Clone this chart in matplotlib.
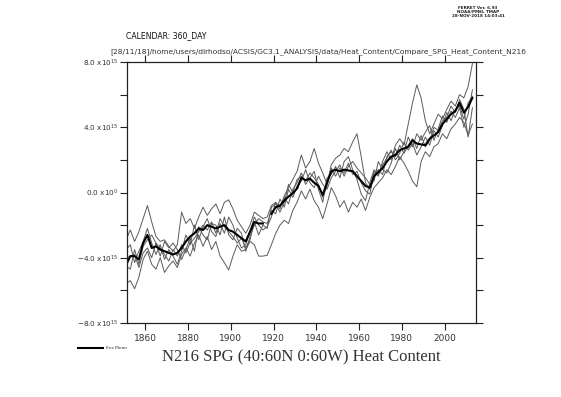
import numpy as np
import matplotlib
matplotlib.use("Agg")
import matplotlib.pyplot as plt

# annual heat content, sampled every 2 years (units of 1e15)
years = np.arange(1851, 2015, 2)

ens_mean = [
    -4.45, -3.9, -3.9, -4.1, -3.1, -2.6, -3.4, -3.3, -3.5, -3.6,
    -3.7, -3.8, -3.7, -3.4, -3.0, -2.7, -2.5, -2.2, -2.3, -2.0,
    -2.1, -2.2, -2.1, -2.0, -2.3, -2.4, -2.6, -2.8, -3.0, -2.4,
    -1.8, -1.9, -1.9, np.nan, -1.3, -0.9, -0.8, -0.5, -0.25, -0.05,
    0.25, 0.9, 0.75, 0.85, 0.6, 0.4, -0.15, 0.6, 1.3, 1.4,
    1.3, 1.4, 1.35, 1.3, 1.0, 0.7, 0.4, 0.3, 1.0, 1.25,
    1.5, 1.9, 2.2, 2.3, 2.6, 2.7, 2.8, 3.2, 3.0, 2.95,
    2.9, 3.3, 3.5, 3.7, 4.2, 4.5, 4.8, 5.0, 5.5, 4.9,
    5.25, 5.8,
]

member_1 = [
    -5.6, -5.4, -5.9, -5.2, -4.1, -3.6, -4.4, -4.7, -4.0, -4.9,
    -4.5, -4.2, -4.6, -3.8, -3.4, -3.9, -3.1, -2.6, -3.3, -2.7,
    -3.5, -3.0, -3.9, -4.3, -4.75, -3.9, -3.2, -3.6, -3.5, -3.0,
    -3.2, -3.9, -3.9, -3.85, -3.2, -2.5, -2.0, -1.7, -1.9, -1.1,
    -0.6, 0.1, -0.4, 0.2, -0.5, -0.9, -1.6, -0.7, 0.3, -0.2,
    -0.9, -0.5, -1.2, -0.6, -0.9, -0.4, -1.1, -0.3, 0.3, 0.6,
    0.9, 1.4, 1.1, 1.6, 2.2, 1.8, 1.3, 0.7, 0.35, 1.9,
    2.5, 2.2, 2.8, 3.0, 3.6, 3.3, 3.9, 4.2, 4.6, 4.3,
    3.5, 4.2,
]

member_2 = [
    -2.9, -2.3, -3.0, -2.4, -1.6, -0.8, -1.8, -2.7, -3.0, -2.9,
    -3.3, -3.6, -3.2, -1.2, -1.9, -1.6, -2.2, -1.5, -0.9, -1.4,
    -1.0, -0.7, -1.3, -0.6, -0.45, -1.0, -1.7, -2.1, -2.5, -2.0,
    -1.2, -1.4, -1.6, -1.5, -0.8, -0.6, -1.0, -0.2, 0.3, 0.8,
    1.3, 2.3, 1.5, 1.9, 2.7, 1.8, 1.2, 0.5, 1.7, 2.1,
    2.3, 2.7, 2.5, 3.1, 3.6, 2.2, 0.6, 0.2, 1.3, 1.0,
    1.9, 2.5, 2.0, 2.9, 3.3, 2.9, 4.2, 5.5, 6.6, 5.8,
    4.4, 3.6, 4.2, 4.8, 4.5, 5.1, 5.6, 5.3, 6.0, 5.8,
    6.5, 7.9,
]

member_3 = [
    -3.5, -3.2, -4.3, -3.6, -3.0, -2.2, -3.1, -3.8, -3.2, -4.1,
    -3.5, -3.9, -4.4, -3.6, -2.6, -3.2, -2.0, -2.9, -2.1, -1.6,
    -2.4, -2.7, -1.9, -2.5, -1.5, -2.0, -2.8, -3.4, -3.2, -2.4,
    -1.5, -2.0, -2.3, -2.1, -1.5, -0.6, -0.9, -0.3, -0.7, 0.2,
    0.6, 1.2, 0.5, 0.9, 1.3, 0.2, -0.6, 0.9, 1.1, 1.6,
    0.9, 1.9, 2.2, 1.4, 0.8, -0.1, -0.5, 0.6, 1.4, 1.1,
    1.7, 2.1, 2.6, 2.0, 2.4, 3.1, 2.6, 3.0, 2.3, 2.8,
    3.4, 2.9, 3.8, 3.4, 4.1, 4.9, 4.4, 5.1, 5.3, 4.5,
    5.5, 5.9,
]

member_4 = [
    -4.5, -4.7, -3.5, -4.4, -3.3, -2.9, -2.6, -3.1, -3.9, -3.0,
    -3.4, -3.1, -3.5, -4.1, -3.5, -2.8, -3.6, -2.1, -2.6, -2.9,
    -1.9, -2.0, -2.6, -1.5, -2.6, -2.9, -2.2, -2.5, -3.6, -2.7,
    -2.0, -1.6, -1.8, -1.9, -1.1, -1.3, -0.4, -0.9, 0.2, -0.3,
    0.4, 0.7, 1.4, 0.6, 0.3, 1.0, 0.5, 0.2, 0.9, 1.3,
    1.7, 1.0, 1.6, 1.9, 1.5, 1.2, 0.9, 0.5, 0.7, 1.9,
    1.4, 1.2, 1.8, 2.7, 2.0, 2.5, 3.4, 2.8, 3.6, 3.2,
    3.7, 4.1, 3.2, 3.9, 4.7, 4.3, 5.0, 4.6, 5.2, 4.0,
    4.8, 6.3,
]

member_5 = [
    -4.0, -3.9, -3.8, -4.6, -3.7, -3.4, -4.0, -3.1, -3.4, -3.8,
    -4.2, -3.5, -3.9, -3.2, -3.7, -3.1, -2.8, -2.4, -2.0, -2.3,
    -1.8, -2.5, -1.6, -2.1, -2.4, -2.7, -3.1, -2.8, -3.4, -2.9,
    -1.8, -2.6, -2.0, -2.2, -0.9, -0.7, -1.2, -0.6, 0.5, 0.0,
    0.8, 1.0, 0.7, 1.2, 0.9, 0.5, -0.3, 0.4, 1.5, 1.0,
    1.5, 1.2, 1.8, 1.1, 1.3, 0.6, 0.1, -0.1, 1.1, 1.4,
    1.1, 2.2, 2.5, 2.2, 2.9, 2.4, 2.9, 3.3, 2.7, 3.5,
    2.8, 3.2, 4.0, 3.8, 4.4, 4.6, 5.3, 4.9, 5.7, 5.1,
    3.4, 5.2,
]

members = [member_1, member_2, member_3, member_4, member_5]

x_ticks = [1860, 1880, 1900, 1920, 1940, 1960, 1980, 2000]
y_ticks = [-8, -6, -4, -2, 0, 2, 4, 6, 8]
y_labels = {
    -8: r"$-$8.0 x10$^{15}$",
    -4: r"$-$4.0 x10$^{15}$",
    0: r"0.0 x10$^{0}$",
    4: r"4.0 x10$^{15}$",
    8: r"8.0 x10$^{15}$",
}

header = ("[28/11/18]/home/users/dlrhodso/ACSIS/GC3.1_ANALYSIS/data/"
          "Heat_Content/Compare_SPG_Heat_Content_N216")
title = "N216 SPG (40:60N 0:60W) Heat Content"

fig = plt.figure(figsize=(5.61, 3.97), dpi=100)
ax = fig.add_axes([0.2258, 0.1864, 0.622, 0.6574])

for m in members:
    ax.plot(years, np.array(m), color="#5a5a5a", linewidth=0.7)
ax.plot(years, np.array(ens_mean), color="black", linewidth=1.5)

ax.set_xlim(1851.3, 2014.5)
ax.set_ylim(-8, 8)

ax.set_xticks(x_ticks)
ax.set_xticklabels([str(t) for t in x_ticks])
ax.set_yticks(y_ticks)
ax.set_yticklabels([y_labels.get(t, "") for t in y_ticks])

ax.tick_params(axis="both", direction="out", length=5, width=0.8,
               top=True, right=True, color="#222222")
ax.tick_params(axis="x", labelsize=6.5, pad=3, labelcolor="#333333")
ax.tick_params(axis="y", labelsize=5.2, pad=1, labelcolor="#333333")
for s in ax.spines.values():
    s.set_linewidth(0.9)
    s.set_color("#222222")

# Ferret page annotations
fig.text(126 / 561, 1 - 36 / 397, "CALENDAR: 360_DAY", fontsize=5.6,
         va="center", ha="left", color="#111111")
fig.text(110 / 561, 1 - 52 / 397, header, fontsize=5.4, va="center",
         ha="left", color="#333333")
fig.text(478 / 561, 1 - 12 / 397,
         "FERRET Ver. 6.93\nNOAA/PMEL TMAP\n28-NOV-2018 14:03:41",
         fontsize=3, fontweight="bold", ha="center", va="center",
         linespacing=1.0, color="#222222")

# legend line for the ensemble mean
fig.add_artist(plt.Line2D([78 / 561, 103 / 561], [1 - 348 / 397] * 2,
                          color="black", linewidth=1.5))
fig.text(106 / 561, 1 - 348 / 397, "Ens Mean", fontsize=3.2,
         va="center", ha="left", color="#333333")

fig.text(301 / 561, 1 - 357 / 397, title, fontsize=12,
         family="Liberation Serif", ha="center", va="center",
         color="#333333")

fig.savefig("out.png", dpi=100)
